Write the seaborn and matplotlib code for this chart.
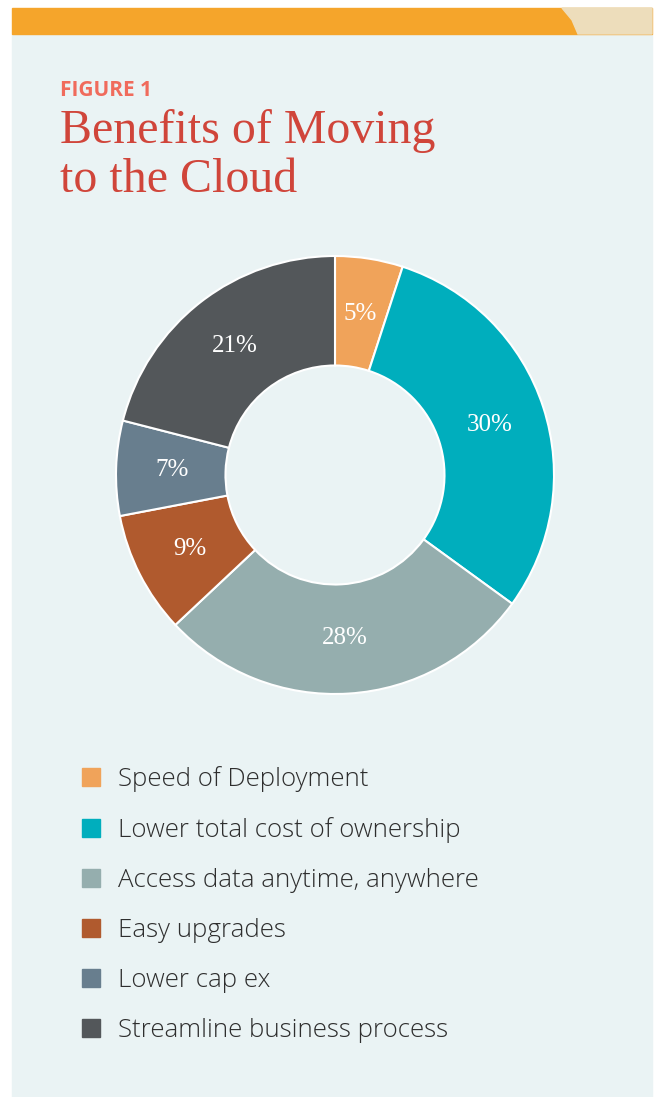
import matplotlib
matplotlib.use("Agg")
import matplotlib.pyplot as plt
import seaborn as sns
from matplotlib.patches import Rectangle, Polygon

# ----------------------------
# Data
# ----------------------------
categories = [
    "Speed of Deployment",
    "Lower total cost of ownership",
    "Access data anytime, anywhere",
    "Easy upgrades",
    "Lower cap ex",
    "Streamline business process",
]
shares = [5, 30, 28, 9, 7, 21]
colors = ["#F0A35A", "#00AEBD", "#95AEAE", "#B05A2E", "#687E8E", "#53575A"]

W, H = 654, 1097
sns.set_theme(style="white")
plt.rcParams["font.family"] = ["Open Sans", "DejaVu Sans"]

fig = plt.figure(figsize=(W / 100, H / 100), dpi=100)
fig.patch.set_facecolor("white")


def px(x, y):
    # pixel coords (top-left origin) -> figure fraction
    return x / W, 1 - y / H


# ----------------------------
# Background panel and top band
# ----------------------------
fig.patches.append(Rectangle(px(12, H), (652 - 12) / W, (H - 34) / H,
                             transform=fig.transFigure, color="#EAF3F4", zorder=-2))
fig.patches.append(Rectangle(px(12, 34), (652 - 12) / W, 26 / H,
                             transform=fig.transFigure, color="#F5A52B", zorder=-2))
fig.patches.append(Polygon([px(562, 8), px(652, 8), px(652, 34), px(578, 34), px(572, 20)],
                           closed=True, transform=fig.transFigure, color="#EDDDBB", zorder=-1))

# ----------------------------
# Titles
# ----------------------------
fig.text(*px(60, 96), "FIGURE 1", fontsize=15, fontweight="bold", color="#F06B5C",
         family=["Open Sans", "DejaVu Sans"], va="baseline")
fig.text(*px(60, 143), "Benefits of Moving", fontsize=34.5, color="#D0453A",
         family=["Liberation Serif", "DejaVu Serif"], va="baseline")
fig.text(*px(60, 192), "to the Cloud", fontsize=34.5, color="#D0453A",
         family=["Liberation Serif", "DejaVu Serif"], va="baseline")

# ----------------------------
# Donut
# ----------------------------
cx, cy, r = 335, 475, 219
ax = fig.add_axes([(cx - r) / W, 1 - (cy + r) / H, 2 * r / W, 2 * r / H], zorder=2)
ax.set_facecolor("none")
wedges, texts = ax.pie(
    shares, colors=colors, startangle=90, counterclock=False,
    labels=[f"{s}%" for s in shares], labeldistance=0.745,
    wedgeprops=dict(width=0.5, edgecolor="white", linewidth=1.5),
    textprops=dict(color="white", fontsize=18, family=["Liberation Serif", "DejaVu Serif"],
                   ha="center", va="center"),
)
ax.set_aspect("equal")
ax.set_xlim(-1, 1)
ax.set_ylim(-1, 1)
ax.axis("off")

# ----------------------------
# Legend
# ----------------------------
handles = [Rectangle((0, 0), 1, 1, color=c) for c in colors]
fig.legend(handles, categories, loc="upper left", bbox_to_anchor=px(82, 766),
           frameon=False, labelcolor="#2E2E2E",
           prop=dict(family=["Open Sans", "DejaVu Sans"], weight="light", size=18.6),
           handlelength=0.7, handleheight=0.7, handletextpad=0.7,
           labelspacing=0.965, borderaxespad=0, borderpad=0)

fig.savefig("out.png", dpi=100, facecolor=fig.get_facecolor())
